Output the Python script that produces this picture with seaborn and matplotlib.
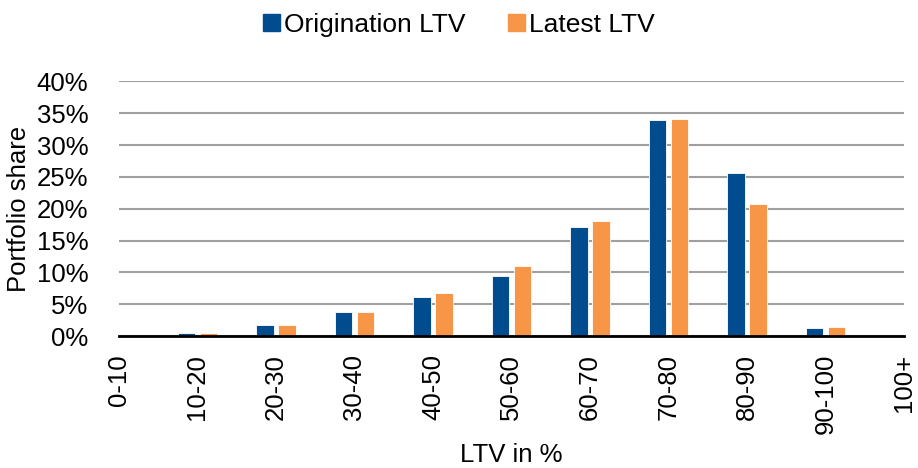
import pandas as pd
import seaborn as sns
import matplotlib.pyplot as plt
from matplotlib.patches import Patch
from matplotlib.ticker import PercentFormatter

buckets = ["0-10", "10-20", "20-30", "30-40", "40-50", "50-60", "60-70", "70-80", "80-90", "90-100", "100+"]
origination = [0.0, 0.4, 1.7, 3.7, 6.2, 9.4, 17.2, 34.0, 25.6, 1.2, 0.0]
latest = [0.0, 0.4, 1.7, 3.8, 6.8, 11.0, 18.1, 34.1, 20.7, 1.4, 0.0]
series = ["Origination LTV", "Latest LTV"]
colors = {"Origination LTV": "#004C8E", "Latest LTV": "#F79646"}

df = pd.DataFrame({
    "bucket": buckets * 2,
    "share": origination + latest,
    "series": [series[0]] * len(buckets) + [series[1]] * len(buckets),
})

sns.set_style("white")
plt.rcParams["font.family"] = ["Liberation Sans", "DejaVu Sans"]
plt.rcParams["text.color"] = "black"
plt.rcParams["axes.labelcolor"] = "black"
fs = 18.5

fig = plt.figure(figsize=(9.18, 4.68), dpi=100)
ax = fig.add_axes([0.1296, 0.282, 0.855, 0.544])
sns.barplot(data=df, x="bucket", y="share", hue="series", order=buckets,
            hue_order=series, palette=colors, saturation=1, width=0.56, gap=0.2,
            edgecolor="white", linewidth=0.6, legend=False, ax=ax)

ax.set_xlim(0, 10)
ax.set_ylim(0, 40)
ax.set_yticks(range(0, 41, 5))
ax.yaxis.set_major_formatter(PercentFormatter(decimals=0))
ax.grid(axis="y", color="#A0A0A0", linewidth=1.5)
ax.set_axisbelow(True)
for s in ["top", "right", "left"]:
    ax.spines[s].set_visible(False)
ax.spines["bottom"].set_color("black")
ax.spines["bottom"].set_linewidth(2)
ax.tick_params(axis="both", length=0, labelsize=fs, colors="black")
ax.tick_params(axis="x", rotation=90, pad=13)
ax.tick_params(axis="y", pad=22)
ax.set_xlabel("LTV in %", fontsize=fs, labelpad=6)
ax.set_ylabel("Portfolio share", fontsize=fs, labelpad=4)

handles = [Patch(color=colors[s], label=s) for s in series]
fig.legend(handles=handles, loc="center", bbox_to_anchor=(0.5, 0.947), ncol=2,
           frameon=False, fontsize=fs + 0.5, handlelength=0.65, handleheight=0.65,
           handletextpad=0.15, columnspacing=1.6)

fig.savefig("out.png", dpi=100)
